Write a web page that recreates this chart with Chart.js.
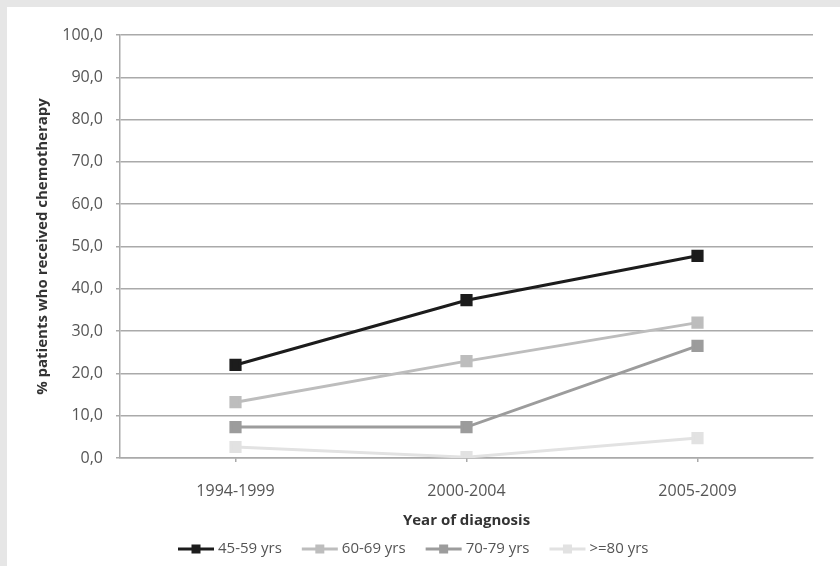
<!DOCTYPE html>
<html>
<head>
<meta charset="utf-8">
<script src="https://cdn.jsdelivr.net/npm/chart.js@4/dist/chart.umd.min.js"></script>
<style>
    body { margin: 0; background: #e6e6e6; }
    #panel { position: absolute; left: 7px; top: 7px; width: 833px; height: 559px; background: #fff; }
</style>
</head>
<body>
<div id="panel"><canvas id="chemoChart" width="833" height="559"></canvas></div>
<script>
// Data
const periods = ['1994-1999', '2000-2004', '2005-2009'];
const ageGroups = ['45-59 yrs', '60-69 yrs', '70-79 yrs', '>=80 yrs'];
const age45to59 = [22.0, 37.3, 47.8];
const age60to69 = [13.2, 22.9, 32.0];
const age70to79 = [7.3, 7.3, 26.5];
const age80plus = [2.6, 0.2, 4.7];
const seriesColors = ['#1c1c1c', '#bdbdbd', '#9c9c9c', '#e2e2e2'];

Chart.defaults.font.family = "'Open Sans', sans-serif";
Chart.defaults.color = '#555';

function formatTick(value) {
    return Number(value).toFixed(1).replace('.', ',');
}

function makeDataset(label, data, color) {
    return {
        label: label,
        data: data,
        borderColor: color,
        backgroundColor: color,
        borderWidth: 3,
        pointStyle: 'rect',
        pointRadius: 6.5,
        pointHoverRadius: 6.5,
        tension: 0
    };
}

// Legend: line with a square marker in the middle, drawn under the axis title
const lineLegend = {
    id: 'lineLegend',
    afterDraw(chart) {
        const ctx = chart.ctx;
        const y = 542;
        let x = 171;
        ctx.save();
        ctx.font = "15px 'Open Sans', sans-serif";
        ctx.textBaseline = 'middle';
        chart.data.datasets.forEach(ds => {
            ctx.strokeStyle = ds.borderColor;
            ctx.fillStyle = ds.borderColor;
            ctx.lineWidth = 3;
            ctx.beginPath();
            ctx.moveTo(x, y);
            ctx.lineTo(x + 36, y);
            ctx.stroke();
            ctx.fillRect(x + 18 - 4.5, y - 4.5, 9, 9);
            ctx.fillStyle = '#555';
            ctx.fillText(ds.label, x + 40, y);
            x += 40 + ctx.measureText(ds.label).width + 20;
        });
        ctx.restore();
    }
};

const ctx = document.getElementById('chemoChart').getContext('2d');
const chemoChart = new Chart(ctx, {
    type: 'line',
    data: {
        labels: periods,
        datasets: [
            makeDataset(ageGroups[0], age45to59, seriesColors[0]),
            makeDataset(ageGroups[1], age60to69, seriesColors[1]),
            makeDataset(ageGroups[2], age70to79, seriesColors[2]),
            makeDataset(ageGroups[3], age80plus, seriesColors[3])
        ]
    },
    options: {
        responsive: false,
        animation: false,
        layout: { padding: { top: 28, right: 27, left: 0, bottom: 28 } },
        plugins: {
            legend: { display: false },
            tooltip: { enabled: false }
        },
        scales: {
            x: {
                offset: true,
                afterFit: scale => { scale.height = 80; },
                grid: { drawOnChartArea: false, color: '#aaa', tickLength: 4, lineWidth: 1.5 },
                border: { color: '#aaa', width: 1.5 },
                ticks: { padding: 20, font: { size: 16 }, color: '#555' },
                title: {
                    display: true,
                    text: 'Year of diagnosis',
                    font: { size: 15, weight: 'bold' },
                    color: '#333',
                    padding: { top: 0, bottom: 8 }
                }
            },
            y: {
                min: 0,
                max: 100,
                afterFit: scale => { scale.width = 113; },
                grid: { color: '#aaa', tickLength: 4, lineWidth: 1.5 },
                border: { color: '#aaa', width: 1.5 },
                ticks: { stepSize: 10, padding: 13, font: { size: 16 }, color: '#555', callback: formatTick },
                title: {
                    display: true,
                    text: '% patients who received chemotherapy',
                    font: { size: 15, weight: 'bold' },
                    color: '#333',
                    padding: { top: 27, bottom: 0 }
                }
            }
        }
    },
    plugins: [lineLegend]
});
</script>
</body>
</html>
